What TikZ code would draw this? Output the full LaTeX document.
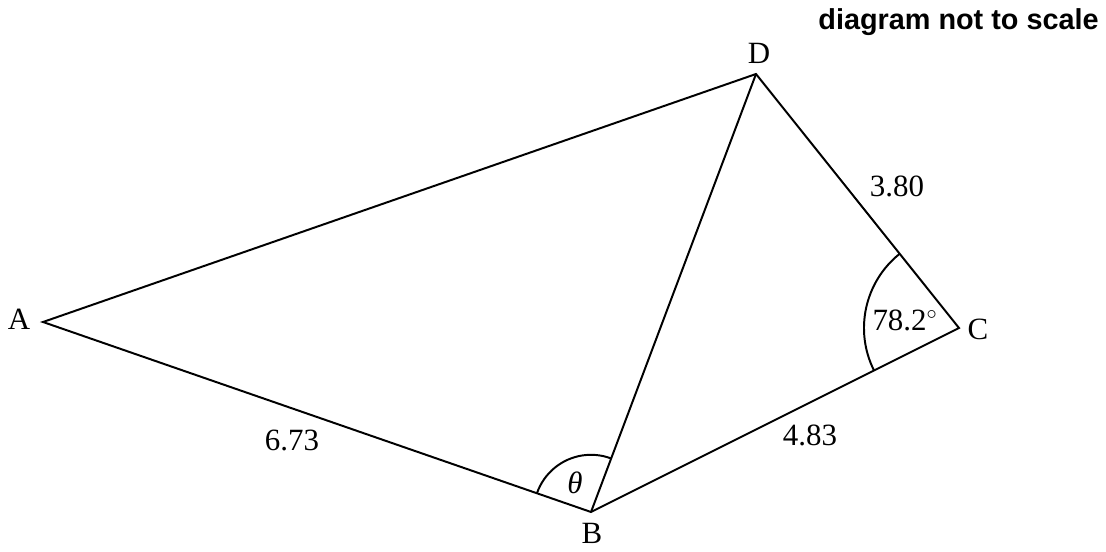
\documentclass[tikz,border=0pt]{standalone}
\usepackage{fontspec}
\setmainfont{Liberation Serif}
\newfontfamily\notefont{Liberation Sans}
\usetikzlibrary{angles}

\begin{document}
\begin{tikzpicture}[
  x=0.025cm,
  y=-0.025cm,
  every node/.style={inner sep=0pt},
  side/.style={black, line width=1.4pt, line join=miter},
  mark arc/.style={draw, black, line width=1.4pt},
  lbl/.style={font=\fontsize{22}{26}\selectfont},
  note/.style={font=\notefont\bfseries\fontsize{20.5}{24}\selectfont}
]
\useasboundingbox (0,0) rectangle (1106,552);

% vertices
\coordinate (A) at (43,322);
\coordinate (B) at (591,512);
\coordinate (C) at (959,328);
\coordinate (D) at (756,74);

% sides and diagonal
\draw[side] (A) -- (B) -- (C) -- (D) -- cycle;
\draw[side] (B) -- (D);

% angle marks
\pic[mark arc, angle radius=2.375cm] {angle = D--C--B};
\pic[mark arc, angle radius=1.43cm] {angle = D--B--A};

% vertex labels
\node[lbl] (labA) at (19,319) {A};
\node[lbl] (labB) at (592,533) {B};
\node[lbl] (labC) at (978,329) {C};
\node[lbl] (labD) at (759,53) {D};

% lengths and angles
\node[lbl] (lenDC) at (897,186) {3.80};
\node[lbl] (lenAB) at (292,440) {6.73};
\node[lbl] (lenBC) at (810,435) {4.83};
\node[lbl] (angC) at (905,320) {78.2$^{\scriptstyle\circ}$};
\node[lbl] (angB) at (575,483) {\textit{θ}};

\node[note, anchor=east] (scale) at (1099,22) {diagram not to scale};
\end{tikzpicture}
\end{document}
